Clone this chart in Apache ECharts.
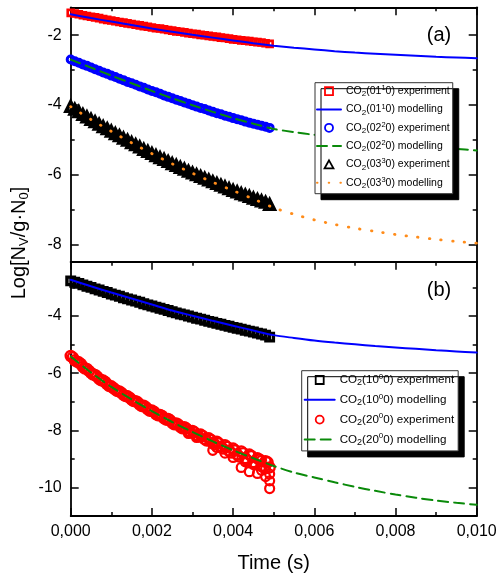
<!DOCTYPE html>
<html><head><meta charset="utf-8">
<script src="https://cdn.jsdelivr.net/npm/echarts@6/dist/echarts.min.js"></script>
<style>html,body{margin:0;padding:0;background:#fff}#c{width:500px;height:580px}</style>
</head><body><div id="c"></div>
<script>
// ---- data ----
const tExp = [0,0.0001,0.0002,0.0003,0.0004,0.0005,0.0006,0.0007,0.0008,0.0009,
  0.0010,0.0011,0.0012,0.0013,0.0014,0.0015,0.0016,0.0017,0.0018,0.0019,
  0.0020,0.0021,0.0022,0.0023,0.0024,0.0025,0.0026,0.0027,0.0028,0.0029,
  0.0030,0.0031,0.0032,0.0033,0.0034,0.0035,0.0036,0.0037,0.0038,0.0039,
  0.0040,0.0041,0.0042,0.0043,0.0044,0.0045,0.0046,0.0047,0.0048,0.0049];
const tExpHalf = [0.00005,0.00015,0.00025,0.00035,0.00045,0.00055,0.00065,0.00075,0.00085,0.00095,
  0.00105,0.00115,0.00125,0.00135,0.00145,0.00155,0.00165,0.00175,0.00185,0.00195,
  0.00205,0.00215,0.00225,0.00235,0.00245,0.00255,0.00265,0.00275,0.00285,0.00295,
  0.00305,0.00315,0.00325,0.00335,0.00345,0.00355,0.00365,0.00375,0.00385,0.00395,
  0.00405,0.00415,0.00425,0.00435,0.00445,0.00455,0.00465,0.00475,0.00485];
const tModel = [0,0.0005,0.001,0.0015,0.002,0.0025,0.003,0.0035,0.004,0.0045,0.005,
  0.0055,0.006,0.0065,0.007,0.0075,0.008,0.0085,0.009,0.0095,0.01];

const exp0110 = [-1.36,-1.38,-1.40,-1.43,-1.45,-1.47,-1.49,-1.51,-1.54,-1.56,
  -1.58,-1.60,-1.62,-1.64,-1.66,-1.68,-1.70,-1.72,-1.74,-1.76,
  -1.78,-1.80,-1.81,-1.83,-1.85,-1.87,-1.89,-1.90,-1.92,-1.94,
  -1.96,-1.97,-1.99,-2.00,-2.02,-2.04,-2.05,-2.07,-2.08,-2.10,
  -2.12,-2.13,-2.15,-2.16,-2.17,-2.19,-2.20,-2.21,-2.23,-2.25];
const mod0110 = [-1.40,-1.51,-1.61,-1.71,-1.81,-1.90,-1.99,-2.07,-2.15,-2.23,-2.30,
  -2.36,-2.41,-2.46,-2.50,-2.53,-2.56,-2.59,-2.62,-2.64,-2.66];

const exp0220 = [-2.70,-2.75,-2.79,-2.84,-2.88,-2.93,-2.98,-3.02,-3.07,-3.11,
  -3.16,-3.20,-3.25,-3.29,-3.34,-3.38,-3.42,-3.47,-3.51,-3.56,
  -3.60,-3.64,-3.68,-3.73,-3.77,-3.81,-3.85,-3.89,-3.93,-3.97,
  -4.01,-4.05,-4.09,-4.12,-4.16,-4.20,-4.24,-4.27,-4.31,-4.34,
  -4.38,-4.41,-4.44,-4.48,-4.51,-4.54,-4.57,-4.60,-4.63,-4.66];
const mod0220 = [-2.70,-2.93,-3.16,-3.38,-3.60,-3.81,-4.01,-4.20,-4.38,-4.54,-4.69,
  -4.78,-4.86,-4.93,-5.00,-5.06,-5.11,-5.16,-5.21,-5.26,-5.31];

const exp0330 = [-4.05,-4.13,-4.20,-4.28,-4.35,-4.42,-4.49,-4.56,-4.63,-4.69,
  -4.76,-4.83,-4.89,-4.96,-5.02,-5.09,-5.15,-5.21,-5.28,-5.34,
  -5.40,-5.46,-5.52,-5.57,-5.63,-5.69,-5.74,-5.80,-5.85,-5.91,
  -5.96,-6.01,-6.06,-6.11,-6.16,-6.21,-6.26,-6.31,-6.36,-6.41,
  -6.46,-6.50,-6.55,-6.59,-6.63,-6.68,-6.72,-6.76,-6.80,-6.86];
const mod0330 = [-4.05,-4.42,-4.76,-5.09,-5.40,-5.69,-5.96,-6.22,-6.46,-6.70,-6.95,
  -7.14,-7.30,-7.43,-7.54,-7.63,-7.72,-7.79,-7.86,-7.92,-7.97];

const exp1000 = [-2.77,-2.82,-2.86,-2.91,-2.96,-3.00,-3.05,-3.09,-3.14,-3.18,
  -3.23,-3.27,-3.31,-3.36,-3.40,-3.44,-3.48,-3.52,-3.57,-3.61,
  -3.65,-3.69,-3.73,-3.77,-3.81,-3.85,-3.89,-3.93,-3.96,-4.00,
  -4.04,-4.08,-4.11,-4.15,-4.19,-4.22,-4.26,-4.29,-4.33,-4.36,
  -4.40,-4.43,-4.46,-4.50,-4.53,-4.56,-4.60,-4.63,-4.67,-4.74];
const mod1000 = [-2.73,-2.96,-3.18,-3.39,-3.60,-3.81,-3.99,-4.17,-4.34,-4.51,-4.67,
  -4.77,-4.86,-4.93,-4.99,-5.05,-5.10,-5.15,-5.20,-5.24,-5.28];

const exp2000 = [-5.40,-5.55,-5.62,-5.78,-5.85,-5.99,-6.06,-6.20,-6.26,-6.39,
  -6.46,-6.58,-6.64,-6.76,-6.81,-6.93,-6.98,-7.10,-7.14,-7.27,
  -7.31,-7.43,-7.46,-7.58,-7.60,-7.74,-7.76,-7.88,-7.89,-8.03,
  -8.02,-8.17,-8.15,-8.31,-8.28,-8.45,-8.40,-8.58,-8.52,-8.72,
  -8.64,-8.85,-8.74,-8.98,-8.85,-9.12,-8.98,-9.25,-9.08,-9.30];
const exp2000Half = [-5.45,-5.60,-5.68,-5.84,-5.92,-6.05,-6.12,-6.25,-6.31,-6.45,
  -6.52,-6.63,-6.69,-6.80,-6.86,-6.98,-7.02,-7.15,-7.19,-7.32,
  -7.35,-7.48,-7.50,-7.63,-7.65,-7.79,-7.80,-7.93,-7.94,-8.08,
  -8.07,-8.22,-8.20,-8.36,-8.33,-8.50,-8.46,-8.64,-8.58,-8.78,
  -8.70,-8.92,-8.80,-9.05,-8.90,-9.18,-9.02,-9.30,-9.12];
const tExtra2000 = [0.0029,0.0031,0.0035,0.0036,0.0038,0.0040,0.0042,0.0043,0.0044,
  0.0045,0.0046,0.0047,0.0048,0.0049,0.0049,0.0049,0.0048,0.0047];
const vExtra2000 = [-8.11,-8.25,-8.70,-8.60,-8.80,-8.95,-9.30,-9.10,-9.45,
  -9.20,-9.51,-9.40,-9.62,-9.53,-9.77,-10.04,-9.35,-9.05];
const mod2000 = [-5.42,-5.98,-6.48,-6.92,-7.33,-7.71,-8.06,-8.39,-8.70,-8.98,-9.25,
  -9.48,-9.65,-9.82,-9.98,-10.12,-10.25,-10.36,-10.46,-10.54,-10.61];

const xTicks = {min: 0, max: 0.01, interval: 0.002};
const yRangeA = {min: -8.5, max: -1.2};
const yTicksA = [-8, -6, -4, -2];
const yMinorA = [-7, -5, -3];
const yRangeB = {min: -11, max: -2.1};
const yTicksB = [-10, -8, -6, -4];
const yMinorB = [-9, -7, -5, -3];

const names = {
  e0110: 'CO2(01¹0) experiment', m0110: 'CO2(01¹0) modelling',
  e0220: 'CO2(02²0) experiment', m0220: 'CO2(02²0) modelling',
  e0330: 'CO2(03³0) experiment', m0330: 'CO2(03³0) modelling',
  e1000: 'CO2(10⁰0) experiment', m1000: 'CO2(10⁰0) modelling',
  e2000: 'CO2(20⁰0) experiment', m2000: 'CO2(20⁰0) modelling'
};
function richName(n) {
  const m = n.match(/^CO2\((\d\d)(.)0\) (\w+)$/);
  const supMap = {'¹':'1','²':'2','³':'3','⁰':'0'};
  return '{t|CO}{sub|2}{t|(' + m[1] + '}{sup|' + supMap[m[2]] + '}{t|0) ' + m[3] + '}';
}

// ---- chart ----
const FONT = '"Liberation Sans", Arial, Helvetica, sans-serif';
const AXL = {color: '#000', width: 1.8};
const TICK = {color: '#000', width: 1.5};
const ICON_SQ = 'path://M0,0L10,0L10,10L0,10Z';
const ICON_TRI = 'path://M5,0L10,9L0,9Z';
function pairs(t, v) { return t.map((x, i) => [x, v[i]]); }

function xAx(grid, pos, opts) {
  return Object.assign({
    type: 'value', gridIndex: grid, position: pos, min: xTicks.min, max: xTicks.max, interval: xTicks.interval,
    axisLine: {show: true, onZero: false, lineStyle: AXL},
    axisTick: {show: true, inside: true, length: 8, lineStyle: TICK},
    minorTick: {show: true, splitNumber: 2, length: 4, lineStyle: TICK},
    axisLabel: {show: false},
    splitLine: {show: false}, minorSplitLine: {show: false}
  }, opts || {});
}
function yAx(grid, pos, range, vals, isMajor, showLabel) {
  return {
    type: 'value', gridIndex: grid, position: pos, min: range.min, max: range.max,
    axisLine: {show: isMajor, onZero: false, lineStyle: AXL},
    axisTick: {show: true, inside: true, length: isMajor ? 8 : 4, lineStyle: TICK, customValues: vals},
    axisLabel: {show: showLabel, customValues: vals, color: '#000', fontSize: 16, fontFamily: FONT, margin: 9},
    splitLine: {show: false}
  };
}

function scatter(name, t, v, xi, yi, symbol, size, color, bw) {
  return {type: 'scatter', name: name, xAxisIndex: xi, yAxisIndex: yi, data: pairs(t, v),
    symbol: symbol, symbolSize: size, z: 2,
    itemStyle: {color: 'rgba(0,0,0,0)', borderColor: color, borderWidth: bw, opacity: 1}};
}
function model(name, v, xi, yi, color, type, width) {
  return {type: 'line', name: name, xAxisIndex: xi, yAxisIndex: yi, data: pairs(tModel, v),
    symbol: 'none', smooth: 0.3, z: 3,
    lineStyle: {color: color, type: type, width: width, cap: 'round'}, itemStyle: {color: color}};
}
function legExp(name, icon) { return {name: name, icon: icon, itemStyle: {borderWidth: 1.8}}; }
function legMod(name) { return {name: name, itemStyle: {opacity: 0}}; }

const richA = {
  t: {fontSize: 10.5, lineHeight: 14, fontFamily: FONT, color: '#000'},
  sub: {fontSize: 8, lineHeight: 6, verticalAlign: 'bottom', fontFamily: FONT, color: '#000'},
  sup: {fontSize: 7.5, lineHeight: 6, verticalAlign: 'top', fontFamily: FONT, color: '#000'}
};
const richB = {
  t: {fontSize: 11.6, lineHeight: 15, fontFamily: FONT, color: '#000'},
  sub: {fontSize: 9, lineHeight: 6, verticalAlign: 'bottom', fontFamily: FONT, color: '#000'},
  sup: {fontSize: 8, lineHeight: 6, verticalAlign: 'top', fontFamily: FONT, color: '#000'}
};
const legendBase = {
  orient: 'vertical', selectedMode: false, backgroundColor: '#fff',
  borderColor: '#333', borderWidth: 1, borderRadius: 0,
  shadowColor: '#000', shadowOffsetX: 6, shadowOffsetY: 6, shadowBlur: 0,
  formatter: richName
};

const option = {
  animation: false,
  backgroundColor: '#fff',
  grid: [
    {left: 70.7, right: 23.3, top: 7.3, height: 254.4},
    {left: 70.7, right: 23.3, top: 261.7, height: 254.3}
  ],
  xAxis: [
    xAx(0, 'bottom', {axisTick: {show: false}, minorTick: {show: false}}),
    xAx(0, 'top'),
    xAx(1, 'bottom', {axisLabel: {show: true, color: '#000', fontSize: 16, fontFamily: FONT, margin: 8,
      formatter: v => v.toFixed(3).replace('.', ',')}}),
    xAx(1, 'top')
  ],
  yAxis: [
    yAx(0, 'left', yRangeA, yTicksA, true, true),
    yAx(0, 'left', yRangeA, yMinorA, false, false),
    yAx(0, 'right', yRangeA, yTicksA, true, false),
    yAx(0, 'right', yRangeA, yMinorA, false, false),
    yAx(1, 'left', yRangeB, yTicksB, true, true),
    yAx(1, 'left', yRangeB, yMinorB, false, false),
    yAx(1, 'right', yRangeB, yTicksB, true, false),
    yAx(1, 'right', yRangeB, yMinorB, false, false)
  ],
  legend: [
    Object.assign({}, legendBase, {
      left: 315, top: 82.7, itemWidth: 24, itemHeight: 8, itemGap: 4.3,
      padding: [1.5, 3, 4, 1],
      data: [legExp(names.e0110, ICON_SQ), legMod(names.m0110), legExp(names.e0220, 'circle'),
             legMod(names.m0220), legExp(names.e0330, ICON_TRI), legMod(names.m0330)],
      textStyle: {color: '#000', fontSize: 10.5, fontFamily: FONT, rich: richA}
    }),
    Object.assign({}, legendBase, {
      left: 301.7, top: 370.7, itemWidth: 30, itemHeight: 8, itemGap: 4.8,
      padding: [1.8, 4, 4, 2],
      data: [legExp(names.e1000, ICON_SQ), legMod(names.m1000), legExp(names.e2000, 'circle'), legMod(names.m2000)],
      textStyle: {color: '#000', fontSize: 11.6, fontFamily: FONT, rich: richB}
    })
  ],
  series: [
    scatter(names.e0110, tExp, exp0110, 0, 0, 'rect', 6, '#ff0000', 2.6),
    model(names.m0110, mod0110, 0, 0, '#0000ff', 'solid', 2),
    scatter(names.e0220, tExp, exp0220, 0, 0, 'circle', 7, '#0000ff', 3),
    model(names.m0220, mod0220, 0, 0, '#0a8a0a', [10, 6], 2),
    scatter(names.e0330, tExp, exp0330, 0, 0, 'triangle', 9, '#000000', 3.8),
    model(names.m0330, mod0330, 0, 0, '#ff8c1a', [0.5, 11.2], 2.8),
    scatter(names.e1000, tExp, exp1000, 2, 4, 'rect', 7.5, '#000000', 3.4),
    model(names.m1000, mod1000, 2, 4, '#0000ff', 'solid', 2),
    scatter(names.e2000, tExp, exp2000, 2, 4, 'circle', 10, '#ff0000', 2.4),
    scatter(names.e2000, tExpHalf, exp2000Half, 2, 4, 'circle', 10, '#ff0000', 2.4),
    scatter(names.e2000, tExtra2000, vExtra2000, 2, 4, 'circle', 9, '#ff0000', 2.2),
    model(names.m2000, mod2000, 2, 4, '#0a8a0a', [10, 6], 2)
  ],
  graphic: [
    {type: 'text', x: 19, y: 243, rotation: Math.PI / 2,
      style: {text: '{m|Log[N}{s|V}{m|/g·N}{s|0}{m|]}', align: 'center', verticalAlign: 'middle', fill: '#000',
        rich: {m: {fontSize: 20, lineHeight: 24, fontFamily: FONT}, s: {fontSize: 13, lineHeight: 8, verticalAlign: 'bottom', fontFamily: FONT}}}},
    {type: 'text', x: 273.7, y: 563, style: {text: 'Time (s)', fontSize: 20, fontFamily: FONT, fill: '#000', align: 'center', verticalAlign: 'middle'}},
    {type: 'text', x: 439, y: 35, style: {text: '(a)', fontSize: 20, fontFamily: FONT, fill: '#000', align: 'center', verticalAlign: 'middle'}},
    {type: 'text', x: 439, y: 290, style: {text: '(b)', fontSize: 20, fontFamily: FONT, fill: '#000', align: 'center', verticalAlign: 'middle'}}
  ]
};
const chart = echarts.init(document.getElementById('c'), null, {renderer: 'canvas'});
chart.setOption(option);
</script></body></html>
